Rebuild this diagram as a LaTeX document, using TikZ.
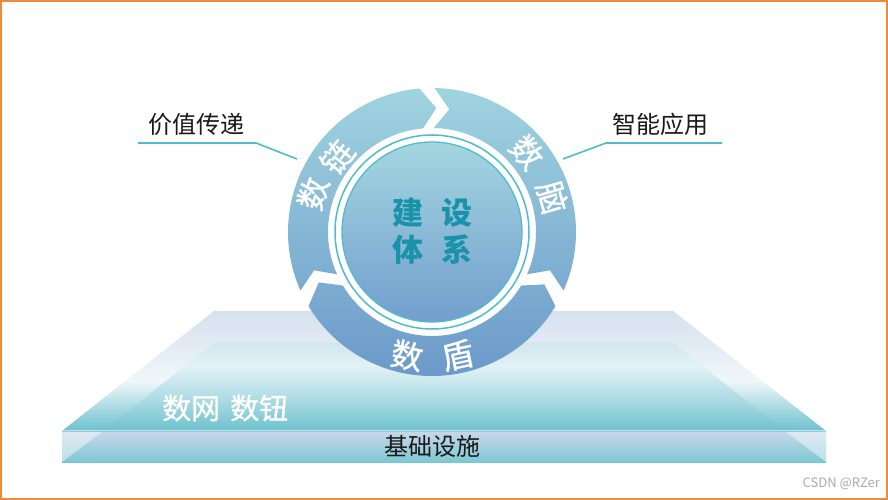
\documentclass[tikz,border=0pt]{standalone}
\usepackage{fontspec}
\newfontfamily\cjk{Noto Sans CJK SC}
\newfontfamily\cjkm[FakeBold=0.9]{Noto Sans CJK SC}
\usetikzlibrary{calc}
\definecolor{pfTop}{HTML}{D6E1EE}
\definecolor{pfMid}{HTML}{F0F7FA}
\definecolor{pfBot}{HTML}{6CC1CE}
\definecolor{ifTop}{HTML}{D2E6EE}
\definecolor{ifMid}{HTML}{E2F2F6}
\definecolor{ifLow}{HTML}{ADDBE4}
\definecolor{ifBot}{HTML}{6CC1CE}
\definecolor{ffTop}{HTML}{C9D8EA}
\definecolor{ffMid}{HTML}{E2ECF4}
\definecolor{ffBot}{HTML}{7CC7D3}
\definecolor{rgTop}{HTML}{A0D4DF}
\definecolor{rgMid}{HTML}{B7D2EA}
\definecolor{rgBot}{HTML}{6B99CA}
\definecolor{dkTop}{HTML}{A4D6E0}
\definecolor{dkMid}{HTML}{C2D9EE}
\definecolor{dkBot}{HTML}{729ECE}
\definecolor{tealc}{HTML}{4FBDC9}
\definecolor{ctext}{HTML}{1A93AA}
\definecolor{frame}{HTML}{EE8A3C}
\definecolor{wmark}{HTML}{ABABAB}
\pgfdeclareverticalshading{bevelshade}{100bp}{color(0bp)=(pfBot); color(25bp)=(pfBot); color(46bp)=(pfMid); color(75bp)=(pfTop); color(100bp)=(pfTop)}
\pgfdeclareverticalshading{faceshade}{100bp}{color(0bp)=(ifBot); color(25bp)=(ifBot); color(43bp)=(ifLow); color(62bp)=(ifMid); color(75bp)=(ifTop); color(100bp)=(ifTop)}
\tikzset{
  ringlbl/.style={text=white, font=\cjkm\fontsize{32}{32}\selectfont, inner sep=0pt},
  ctrlbl/.style={text=ctext, font=\cjk\bfseries\fontsize{31}{31}\selectfont, inner sep=0pt},
  sidelbl/.style={text=black!90, font=\cjk\fontsize{24}{24}\selectfont, inner sep=0pt},
  callout/.style={draw=tealc, line width=1.6pt},
}
\begin{document}
\begin{tikzpicture}[x=1pt,y=1pt]
\useasboundingbox (0,0) rectangle (888,500);
\fill[white] (0,0) rectangle (888,500);

% platform
\shade[shading=bevelshade]
  (214,189) -- (673,189) -- (826,69) -- (62,69) -- cycle;
\shade[shading=faceshade]
  (214,157) -- (673,157) -- (785,69) -- (103,69) -- cycle;
\shade[top color=ffTop, middle color=ffMid, bottom color=ffBot]
  (62,37) rectangle (826,69);
\fill[white, opacity=0.45] (62,69) -- (103,69) -- (62,38) -- cycle;
\fill[white, opacity=0.45] (785,69) -- (826,69) -- (826,38) -- cycle;
\draw[tealc!70, line width=0.8pt] (62,69) -- (826,69);
\draw[tealc!80, line width=1pt] (62,37) -- (826,37);

% ring
\begin{scope}[shift={(432,268)}]
  \fill[white] (0,0) circle (104);
  \begin{scope}
    \clip (204:144) arc[start angle=204,end angle=95,radius=144] -- (88:124)
          -- (95:104) arc[start angle=95,end angle=204,radius=104] -- (198:124) -- cycle
          (89:144) arc[start angle=89,end angle=-24,radius=144] -- (-18:124)
          -- (-24:104) arc[start angle=-24,end angle=89,radius=104] -- (82:124) -- cycle
          (-31:144) arc[start angle=-31,end angle=-149,radius=144] -- (-156:124)
          -- (-149:104) arc[start angle=-149,end angle=-31,radius=104] -- (-25:124) -- cycle;
    \shade[top color=rgTop, middle color=rgMid, bottom color=rgBot] (-146,-146) rectangle (146,146);
  \end{scope}
  \draw[tealc, line width=1.5pt] (0,0) circle (97);
  \shade[top color=dkTop, middle color=dkMid, bottom color=dkBot] (0,0) circle (90);
  \draw[tealc, line width=1.3pt] (0,0) circle (90);

  \node[ringlbl, rotate=72]   (s1) at (162:125) {数};
  \node[ringlbl, rotate=52]   (s2) at (141.7:121) {链};
  \node[ringlbl, rotate=-50]  (s3) at (40:124) {数};
  \node[ringlbl, rotate=-74]  (s4) at (16:125) {脑};
  \node[ringlbl, rotate=-11.4] (s5) at (258.6:126) {数};
  \node[ringlbl, rotate=11.8] (s6) at (281.8:126) {盾};
\end{scope}

% center text
\node[ctrlbl] (c1) at (408,287) {建};
\node[ctrlbl] (c2) at (457,287) {设};
\node[ctrlbl] (c3) at (408,250) {体};
\node[ctrlbl] (c4) at (457,250) {系};

% side labels and callouts
\node[sidelbl] (lv) at (196.5,376) {价值传递};
\node[sidelbl] (ra) at (660.5,376) {智能应用};
\coordinate (lvA) at (138,357);
\coordinate (lvB) at (256,357);
\coordinate (lvC) at (297,341);
\coordinate (raA) at (722,357);
\coordinate (raB) at (606,357);
\coordinate (raC) at (563,341);
\draw[callout] (lvA) -- (lvB) -- (lvC);
\draw[callout] (raA) -- (raB) -- (raC);

% platform labels
\node[anchor=west, text=white, font=\cjkm\fontsize{29}{29}\selectfont, inner sep=0pt] (net) at (162,92) {数网\hspace{10pt}数钮};
\node[sidelbl] (base) at (432,54) {基础设施};

% watermark
\node[anchor=east, text=wmark, font=\cjk\fontsize{13}{13}\selectfont, inner sep=0pt] (wm) at (880,16) {CSDN @RZer};

% frame
\draw[frame, line width=2pt] (1,1) rectangle (887,499);
\end{tikzpicture}
\end{document}
